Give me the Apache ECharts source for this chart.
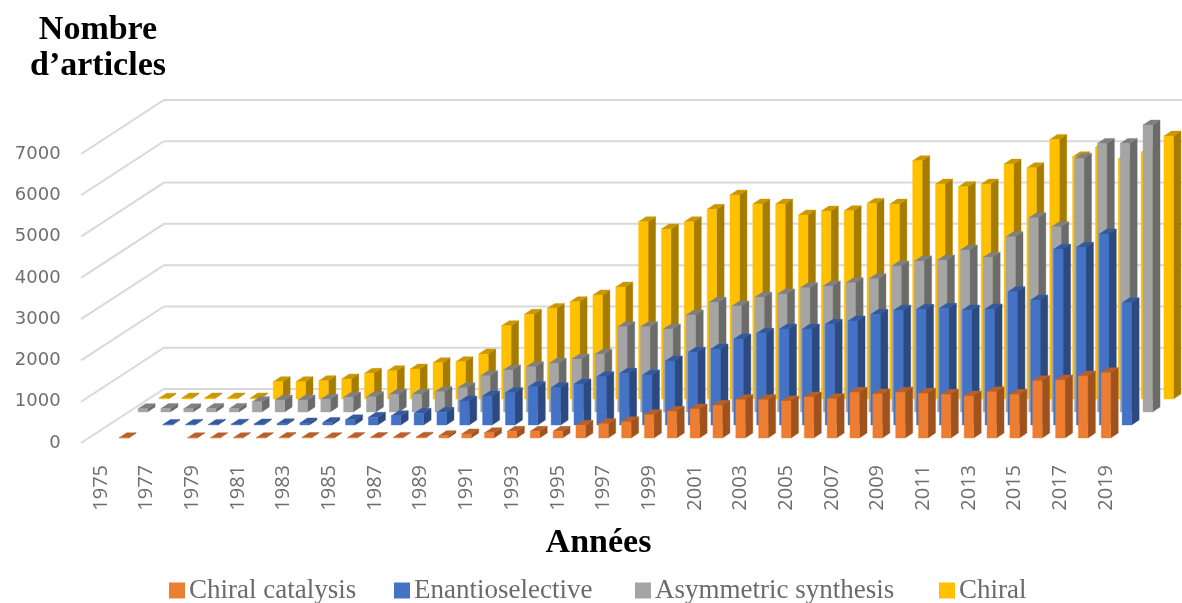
<!DOCTYPE html>
<html><head><meta charset="utf-8">
<style>html,body{margin:0;padding:0;background:#fff}#c{width:1182px;height:603px}</style>
<script src="https://cdn.jsdelivr.net/npm/echarts@6/dist/echarts.min.js"></script>
</head><body><div id="c"></div>
<script>
const years = ['1975','1976','1977','1978','1979','1980','1981','1982','1983','1984','1985','1986','1987','1988','1989','1990','1991','1992','1993','1994','1995','1996','1997','1998','1999','2000','2001','2002','2003','2004','2005','2006','2007','2008','2009','2010','2011','2012','2013','2014','2015','2016','2017','2018','2019'];
const chiralCatalysis = [null,5,null,null,5,8,8,8,10,12,8,10,12,15,20,56,97,129,161,161,161,307,347,395,565,646,702,791,928,928,896,993,952,1106,1065,1110,1082,1057,1017,1121,1057,1388,1404,1501,1581];
const enantioselective = [null,null,10,15,15,20,25,30,50,60,125,186,226,283,307,581,702,783,928,904,993,1170,1252,1211,1550,1760,1840,2082,2220,2324,2324,2438,2518,2680,2780,2801,2825,2785,2809,3228,3027,4254,4303,4625,2961];
const asymmetricSynthesis = [80,85,80,85,85,250,290,290,307,360,370,429,429,492,588,879,1017,1097,1179,1283,1397,2065,2065,2010,2349,2656,2567,2777,2857,3010,3051,3131,3228,3535,3660,3680,3922,3745,4245,4705,4487,6143,6506,6506,6949];
const chiral = [20,25,25,25,25,420,420,444,484,622,686,726,880,904,1090,1776,2050,2195,2357,2518,2712,4293,4116,4293,4593,4939,4722,4722,4455,4552,4560,4738,4722,5770,5206,5141,5206,5690,5601,6288,5867,6094,5811,5973,6368];
const gridTicks = [0,1000,2000,3000,4000,5000,6000,7000];
const legendNames = ['Chiral catalysis','Enantioselective','Asymmetric synthesis','Chiral'];
const legendLefts = [164, 389, 630, 934];

const BAR_W = 9.5, SIDE_X = 7.5, SIDE_Y = 5, STEP_X = 20.9, STEP_Y = 13, FRONT_GAP = 5;
const WALL_X = 83, WALL_Y = 54;

function barSeries(name, values, slot, front, side, top) {
  return {
    name, type: 'custom', coordinateSystem: 'cartesian2d', z: 10 - slot, silent: true,
    itemStyle: { color: front },
    data: values.map((v, i) => [i, v]),
    encode: { x: 0, y: 1 },
    renderItem(params, api) {
      const v = api.value(1);
      if (v == null || isNaN(v)) return null;
      const t = api.coord([api.value(0), v]);
      const b = api.coord([api.value(0), 0]);
      const x0 = t[0] - BAR_W / 2 + slot * STEP_X, x1 = x0 + BAR_W;
      const yb = b[1] - FRONT_GAP - slot * STEP_Y;
      const yt = t[1] - FRONT_GAP - slot * STEP_Y;
      const poly = (pts, fill) => ({ type: 'polygon', shape: { points: pts }, style: { fill, stroke: fill, lineWidth: 0.4 } });
      return { type: 'group', children: [
        poly([[x1, yb], [x1 + SIDE_X, yb - SIDE_Y], [x1 + SIDE_X, yt - SIDE_Y], [x1, yt]], side),
        poly([[x0, yt], [x1, yt], [x1 + SIDE_X, yt - SIDE_Y], [x0 + SIDE_X, yt - SIDE_Y]], top),
        poly([[x0, yb], [x1, yb], [x1, yt], [x0, yt]], front)
      ]};
    }
  };
}

const wall = {
  type: 'custom', coordinateSystem: 'cartesian2d', z: 1, silent: true,
  data: gridTicks.map(v => [0, v]),
  encode: { x: 0, y: 1 },
  renderItem(params, api) {
    const y = api.coord([0, api.value(1)])[1];
    const x = params.coordSys.x - 8.6;
    return { type: 'polyline',
      shape: { points: [[x, y], [x + WALL_X, y - WALL_Y], [1182, y - WALL_Y]] },
      style: { fill: null, stroke: '#d9d9d9', lineWidth: 2 } };
  }
};

const chart = echarts.init(document.getElementById('c'), null, { renderer: 'canvas' });
chart.setOption({
  animation: false,
  backgroundColor: '#fff',
  grid: { left: 89.6, top: 154, width: 1027.8, height: 289, containLabel: false },
  title: { text: 'Nombre\nd’articles', left: 93, top: 7, textAlign: 'center',
    textStyle: { fontFamily: 'Liberation Serif', fontWeight: 'bold', fontSize: 34, lineHeight: 36, color: '#000' } },
  legend: legendNames.map((n, i) => ({ data: [n], left: legendLefts[i], top: 572, icon: 'rect', itemWidth: 16, itemHeight: 16,
    textStyle: { fontFamily: 'Liberation Serif', fontSize: 27, color: '#6b6b6b', padding: [0, 0, 0, -1] } })),
  xAxis: { type: 'category', data: years, boundaryGap: true,
    axisLine: { show: false }, axisTick: { show: false }, splitLine: { show: false },
    axisLabel: { interval: 1, rotate: 90, margin: 22, fontFamily: 'Open Sans', fontSize: 20, color: '#6e6e6e' },
    name: 'Années', nameLocation: 'middle', nameGap: 83,
    nameTextStyle: { fontFamily: 'Liberation Serif', fontWeight: 'bold', fontSize: 34, color: '#000', padding: [0, 10, 0, 0] } },
  yAxis: { type: 'value', min: 0, max: 7000, interval: 1000,
    axisLine: { show: false }, axisTick: { show: false }, splitLine: { show: false },
    axisLabel: { margin: 29, fontFamily: 'DejaVu Sans', fontSize: 18, color: '#6e6e6e', padding: [4, 0, 0, 0], formatter: v => String(v) } },
  series: [
    wall,
    barSeries(legendNames[0], chiralCatalysis, 0, '#ed7d31', '#9e521e', '#b8602a'),
    barSeries(legendNames[1], enantioselective, 1, '#4472c4', '#2c4a80', '#345a9e'),
    barSeries(legendNames[2], asymmetricSynthesis, 2, '#a5a5a5', '#6b6b6b', '#808080'),
    barSeries(legendNames[3], chiral, 3, '#ffc000', '#a67c00', '#c99700')
  ]
});
</script></body></html>
